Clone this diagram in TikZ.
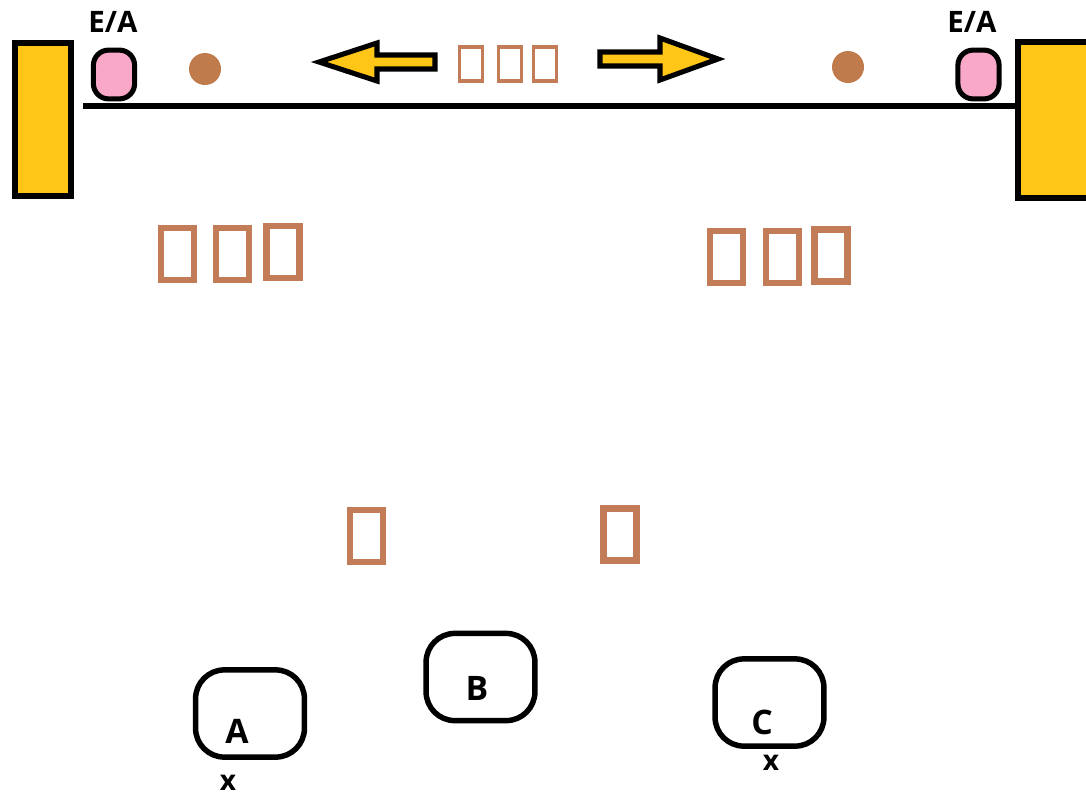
\documentclass[tikz,border=0pt]{standalone}
\usepackage{fontspec}
\setmainfont{Open Sans}
\usepackage{xcolor}
\usepackage{tikz}
\usetikzlibrary{positioning}

\definecolor{baryellow}{HTML}{FFC617}
\definecolor{eapink}{HTML}{F9A8C8}
\definecolor{dotbrown}{HTML}{BF7B4C}
\definecolor{tofubrown}{HTML}{C27D58}

\begin{document}
\begin{tikzpicture}[
    x=0.025cm, y=-0.025cm,
    bar/.style={draw,fill=baryellow,line width=4.3pt,minimum width=1.4cm,
        minimum height=3.825cm,inner sep=0pt},
    ea/.style={draw,fill=eapink,line width=3.6pt,rounded corners=0.38cm,
        minimum width=1.03cm,minimum height=1.22cm,inner sep=0pt},
    dot/.style={circle,fill=dotbrown,minimum size=0.8cm,inner sep=0pt},
    track/.style={line width=4.2pt},
    blockarrow/.style={draw,fill=baryellow,line width=3.6pt,line join=miter},
    tofu/.style={draw=tofubrown,line width=2.6pt,minimum width=0.58cm,
        minimum height=0.86cm,inner sep=0pt},
    bigtofu/.style={draw=tofubrown,line width=4.3pt,minimum width=0.825cm,
        minimum height=1.3cm,inner sep=0pt},
    pen/.style={draw,line width=3.9pt,rounded corners=0.72cm,
        minimum width=2.72cm,minimum height=2.18cm,inner sep=0pt},
    lab/.style={font=\bfseries\fontsize{21}{25}\selectfont,inner sep=0pt},
    big/.style={font=\bfseries\fontsize{24}{28}\selectfont,inner sep=0pt},
    small/.style={font=\bfseries\fontsize{20}{23}\selectfont,inner sep=0pt}
]
\useasboundingbox (0,0) rectangle (1086,797);

% ends of the rail
\node[bar] (barL) at (43,119.5) {};
\node[bar,minimum width=2.5cm,minimum height=3.9cm] (barR) at (1068,120) {};
\coordinate (trackL) at (83,106);
\draw[track] (trackL) -- (barR.west |- trackL);

\node[ea] (eaL) at (114,74.5) {};
\node[ea] (eaR) at (978.5,74.5) {};
\node[lab] (eaLlab) at (113,22) {E/A};
\node[lab] (eaRlab) at (972,22) {E/A};

\node[dot] (dotL) at (205,69) {};
\node[dot] (dotR) at (848,67) {};

% arrows and middle label
\draw[blockarrow] (319,62) -- (377,43) -- (377,55) -- (435,55) -- (435,69)
    -- (377,69) -- (377,81) -- cycle;
\draw[blockarrow] (718,59) -- (660,38) -- (660,52) -- (600,52) -- (600,66)
    -- (660,66) -- (660,80) -- cycle;
\foreach \x [count=\i] in {471,510,545}
    \node[tofu] (tofuM\i) at (\x,64) {};

\foreach \x/\y [count=\i] in {177.5/254,232.5/254,283/252}
    \node[bigtofu] (tofuL\i) at (\x,\y) {};
\foreach \x/\y [count=\i] in {726.5/257,782.5/257,831/255.5}
    \node[bigtofu] (tofuR\i) at (\x,\y) {};
\node[bigtofu] (tofuA) at (366.5,536) {};
\node[bigtofu] (tofuB) at (620,534.5) {};

% pens
\node[pen] (penA) at (250,713.5) {};
\node[pen] (penB) at (480.5,677) {};
\node[pen] (penC) at (769.5,702.5) {};
\node[big] (labA) at (237,731) {A};
\node[big] (labB) at (477,688) {B};
\node[big] (labC) at (762,722) {C};
\node[small] (xA) at (228,783) {x};
\node[small] (xC) at (771,763) {x};
\end{tikzpicture}
\end{document}
